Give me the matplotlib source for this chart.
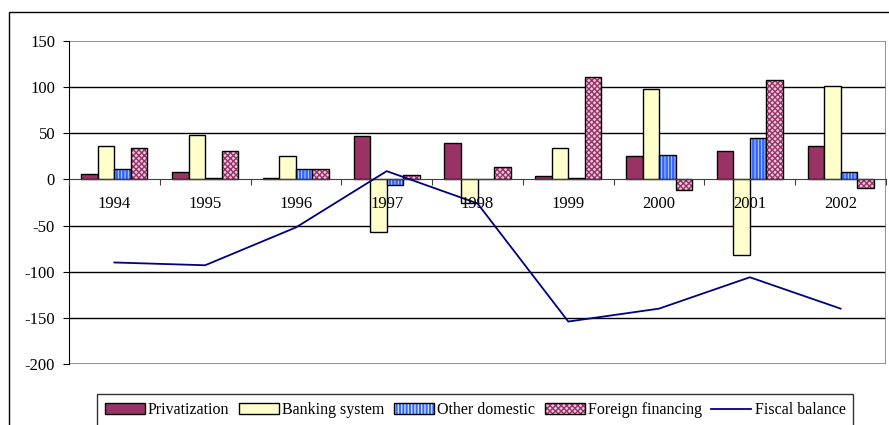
import numpy as np
import matplotlib.pyplot as plt
from matplotlib.patches import Patch, Rectangle
from matplotlib.lines import Line2D
from matplotlib.legend_handler import HandlerTuple

plt.rcParams['font.family'] = ['Liberation Serif', 'DejaVu Serif']
plt.rcParams['axes.unicode_minus'] = False
plt.rcParams['hatch.linewidth'] = 1.0

years = ['1994', '1995', '1996', '1997', '1998', '1999', '2000', '2001', '2002']
privatization = [6, 8, 1.5, 47, 39, 4, 25, 31, 36]
banking = [36, 48, 25, -57, -25, 34, 98, -82, 101]
other_domestic = [11, 2, 11, -6, 0, 2, 26, 45, 8]
foreign = [34, 31, 11, 5, 13, 111, -11, 108, -9]
fiscal_balance = [-90, -93, -52, 9, -26, -154, -140, -106, -140]

plum = '#993366'
cream = '#FFFFCC'
blue = '#3366FF'
navy = '#000080'

fig = plt.figure(figsize=(8.89, 4.25), dpi=100)
ax = fig.add_axes([69 / 889, 61 / 425, 817 / 889, 323 / 425])

x = np.arange(len(years))
w = 1 / 5.5

# gridlines under everything
for yv in np.arange(-150, 101, 50):
    if yv != 0:
        ax.axhline(yv, color='black', linewidth=1, zorder=1)

# plain bars
ax.bar(x - 1.5 * w, privatization, w, color=plum, edgecolor='black', linewidth=1, zorder=3)
ax.bar(x - 0.5 * w, banking, w, color=cream, edgecolor='black', linewidth=1, zorder=3)

# striped bars: hatch first, outline on top
with plt.rc_context({'hatch.linewidth': 0.6}):
    ax.bar(x + 0.5 * w, other_domestic, w, color=blue, edgecolor='#CCDDFF', hatch='|||||',
           linewidth=0, zorder=3)
    blue_handle = Patch(facecolor=blue, edgecolor='#CCDDFF', hatch='|||||', linewidth=0)
ax.bar(x + 0.5 * w, other_domestic, w, fill=False, edgecolor='black', linewidth=1, zorder=3)

# checkered bars
ax.bar(x + 1.5 * w, foreign, w, color='#E8C8E0', edgecolor=plum, hatch='xxxxxx',
       linewidth=0, zorder=3)
ax.bar(x + 1.5 * w, foreign, w, fill=False, edgecolor='black', linewidth=1, zorder=3)

ax.plot(x, fiscal_balance, color=navy, linewidth=1.3, zorder=5)

ax.set_xlim(-0.5, len(years) - 0.5)
ax.set_ylim(-200, 150)
ax.set_yticks(np.arange(-200, 151, 50))

# x axis sits at zero, ticks between categories, labels at centres
ax.spines['bottom'].set_position(('data', 0))
ax.spines['bottom'].set_color('#404040')
ax.spines['bottom'].set_zorder(4)
ax.set_xticks(np.arange(-0.5, len(years) - 0.4, 1))
ax.set_xticklabels([])
ax.set_xticks(x, minor=True)
ax.set_xticklabels(years, minor=True)
ax.tick_params(axis='x', which='major', direction='out', length=4, color='#404040')
ax.tick_params(axis='x', which='minor', length=0, pad=12, labelsize=12)
ax.tick_params(axis='y', direction='out', length=4, pad=6, labelsize=12)
ax.xaxis.set_zorder(6)

for side in ['top', 'right']:
    ax.spines[side].set_visible(False)
ax.add_patch(Rectangle((0, 0), 1, 1, transform=ax.transAxes, fill=False,
                       edgecolor='#808080', linewidth=1.2, zorder=2))
ax.spines['left'].set_zorder(6)

# outer chart border
fig.add_artist(Rectangle((8.5 / 889, -0.1), 1.0, 0.1 + (425 - 12.3) / 425,
                         transform=fig.transFigure, fill=False,
                         edgecolor='black', linewidth=1))

handles = [
    Patch(facecolor=plum, edgecolor='black', linewidth=1),
    Patch(facecolor=cream, edgecolor='black', linewidth=1),
    (blue_handle, Patch(fill=False, edgecolor='black', linewidth=1)),
    (Patch(facecolor='#E8C8E0', edgecolor=plum, hatch='xxxxxx', linewidth=0),
     Patch(fill=False, edgecolor='black', linewidth=1)),
    Line2D([], [], color=navy, linewidth=1.3),
]
labels = ['Privatization', 'Banking system', 'Other domestic', 'Foreign financing',
          'Fiscal balance']
leg = fig.legend(handles, labels, loc='upper left',
                 bbox_to_anchor=(96.7 / 889, 1 - 394.3 / 425), ncol=5,
                 fontsize=11.5, frameon=True, fancybox=False, edgecolor='black',
                 handlelength=2.5, handleheight=0.65, handletextpad=0.2,
                 columnspacing=0.6, borderpad=0.5, borderaxespad=0,
                 handler_map={tuple: HandlerTuple(ndivide=1)})
leg.get_frame().set_linewidth(1)

fig.savefig('out.png', dpi=100)
